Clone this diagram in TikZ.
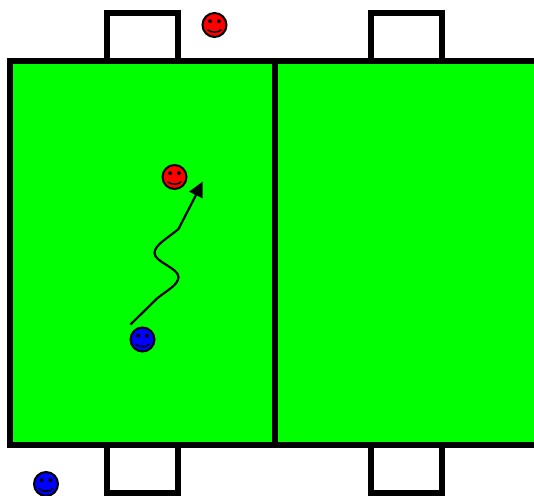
\documentclass[tikz,border=0pt]{standalone}
\definecolor{pitch}{RGB}{0,255,0}
\definecolor{facered}{RGB}{255,0,0}
\definecolor{faceblue}{RGB}{0,0,255}
\tikzset{
  fieldline/.style={draw=black,line width=6pt,line cap=butt,line join=miter},
  face/.style={circle,draw=black,line width=2pt,fill=#1,minimum size=24pt,inner sep=0pt,outer sep=0pt,
    path picture={
      \fill[black] ([shift={(-4.4pt,3.8pt)}]path picture bounding box.center) circle (2pt);
      \fill[black] ([shift={(4.4pt,3.8pt)}]path picture bounding box.center) circle (2pt);
      \draw[black,line width=1.5pt] ([shift={(-7pt,-4.6pt)}]path picture bounding box.center)
        .. controls +(3pt,-3.4pt) and +(-3pt,-3.4pt) .. ([shift={(7pt,-4.6pt)}]path picture bounding box.center);
    }},
  runline/.style={draw=black,line width=2.2pt,line join=round,line cap=butt}
}
\begin{document}
\begin{tikzpicture}[x=1pt,y=-1pt]
\useasboundingbox (0,0) rectangle (534,495);
\fill[white] (0,0) rectangle (534,495);
% field
\fill[pitch] (10,60.5) rectangle (534,444.8);
\draw[fieldline] (534,60.5) -- (10,60.5) -- (10,444.8) -- (534,444.8);
\draw[fieldline] (274.5,60.5) -- (274.5,444.8);
% goals
\draw[fieldline] (106.5,60.5) -- (106.5,12.9) -- (178.4,12.9) -- (178.4,60.5);
\draw[fieldline] (370.5,60.5) -- (370.5,12.9) -- (442.4,12.9) -- (442.4,60.5);
\draw[fieldline] (106.5,444.8) -- (106.5,493) -- (178.4,493) -- (178.4,444.8);
\draw[fieldline] (370.5,444.8) -- (370.5,493) -- (442.4,493) -- (442.4,444.8);
% players
\node[face=facered] (redtop) at (214.5,25) {};
\node[face=facered] (redfield) at (174.5,177) {};
\node[face=faceblue] (bluefield) at (142.5,339.5) {};
\node[face=faceblue] (bluebottom) at (46,484) {};
% run
\coordinate (runstart) at (130.5,324.5);
\coordinate (runa) at (157,298.5);
\coordinate (runb) at (178.5,277);
\coordinate (runc) at (154.5,253);
\coordinate (rund) at (178.5,229);
\coordinate (runtip) at (202.5,181.7);
\coordinate (headl) at (189,191.7);
\coordinate (headr) at (202.5,198.3);
\draw[runline] (runstart) -- (runa)
  .. controls (166,291) and (178.5,285) .. (runb)
  .. controls (178.5,268) and (154.5,262) .. (runc)
  .. controls (154.5,245) and (168,238) .. (rund)
  -- (196,195);
\fill[black] (runtip) -- (headl) -- (headr) -- cycle;
\end{tikzpicture}
\end{document}
